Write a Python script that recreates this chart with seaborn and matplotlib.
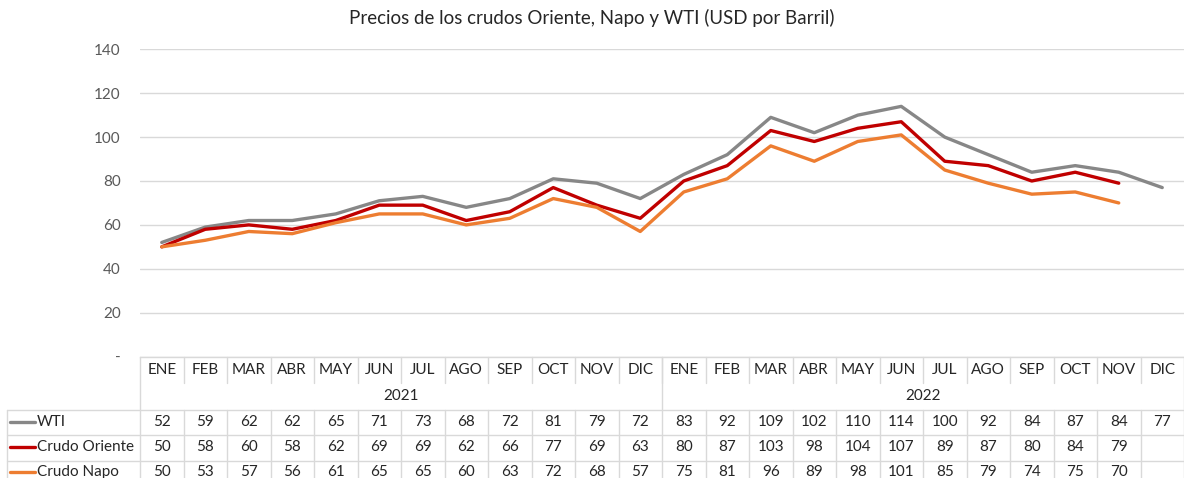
import numpy as np
import pandas as pd
import seaborn as sns
import matplotlib
matplotlib.use("Agg")
import matplotlib.pyplot as plt
from matplotlib.lines import Line2D
from matplotlib import transforms
from matplotlib.ticker import FuncFormatter

# ---- data ----
months = ["ENE", "FEB", "MAR", "ABR", "MAY", "JUN", "JUL", "AGO", "SEP", "OCT", "NOV", "DIC"]
years = ["2021", "2022"]
wti = [52, 59, 62, 62, 65, 71, 73, 68, 72, 81, 79, 72,
       83, 92, 109, 102, 110, 114, 100, 92, 84, 87, 84, 77]
oriente = [50, 58, 60, 58, 62, 69, 69, 62, 66, 77, 69, 63,
           80, 87, 103, 98, 104, 107, 89, 87, 80, 84, 79, np.nan]
napo = [50, 53, 57, 56, 61, 65, 65, 60, 63, 72, 68, 57,
        75, 81, 96, 89, 98, 101, 85, 79, 74, 75, 70, np.nan]
series_names = ["WTI", "Crudo Oriente", "Crudo Napo"]
series_values = [wti, oriente, napo]
colors = ["#878787", "#c00000", "#ed7d31"]
title = "Precios de los crudos Oriente, Napo y WTI (USD por Barril)"
yticks = [0, 20, 40, 60, 80, 100, 120, 140]

# ---- build long-form frame ----
n = len(wti)
labels = [m for _ in years for m in months]
df = pd.DataFrame({"idx": np.arange(n)})
for name, vals in zip(series_names, series_values):
    df[name] = vals
long = df.melt(id_vars="idx", var_name="series", value_name="value").dropna()

sns.set_style("white")
plt.rcParams["font.family"] = ["Lato", "DejaVu Sans"]

W, H = 1184, 478
fig = plt.figure(figsize=(W / 100, H / 100), dpi=100)
ax = fig.add_axes([140 / W, 1 - 356.6 / H, 1044 / W, (356.6 - 49.3) / H])

sns.lineplot(data=long, x="idx", y="value", hue="series", hue_order=series_names,
             palette=dict(zip(series_names, colors)), linewidth=2.4, legend=False,
             ax=ax, sort=True)

ax.set_xlim(-0.5, n - 0.5)
ax.set_ylim(0, 140)
ax.set_yticks(yticks)
ax.yaxis.set_major_formatter(FuncFormatter(lambda v, p: "-" if v == 0 else f"{int(v)}"))
ax.tick_params(axis="y", length=0, pad=14, labelsize=11, labelcolor="#595959")
ax.set_xticks([])
ax.set_xlabel("")
ax.set_ylabel("")
ax.grid(axis="y", color="#d9d9d9", linewidth=1)
for s in ["left", "right", "top"]:
    ax.spines[s].set_visible(False)
ax.spines["bottom"].set_color("#d9d9d9")
ax.spines["bottom"].set_linewidth(1)

fig.text(0.5, 1 - 18 / H, title, ha="center", va="center", fontsize=13.5, color="#262626")

# ---- data table ----
def fy(px):
    return 1 - px / H

bt = transforms.blended_transform_factory(ax.transData, fig.transFigure)
ft = fig.transFigure
grid_c = "#d9d9d9"
fs = 11

def vline(x, y0, y1, trans=bt):
    fig.add_artist(Line2D([x, x], [fy(y0), fy(y1)], transform=trans, color=grid_c, lw=1))

def hline(x0, y, trans=ft):
    fig.add_artist(Line2D([x0, 1.0], [fy(y), fy(y)], transform=trans, color=grid_c, lw=1))

row_month_y = 370
row_year_y = 396
row_data_y = [422, 447, 472]
top_y, mid_y, year_bot, row_bounds = 357, 383, 410, [410, 435, 461]

# month row
for i, lab in enumerate(labels):
    ax.text(i, fy(row_month_y), lab, transform=bt, ha="center", va="center",
            fontsize=fs, color="#262626")
for i in range(1, n):
    vline(i - 0.5, top_y, mid_y)
# year row
for k, yr in enumerate(years):
    ax.text(k * 12 + 5.5, fy(row_year_y), yr, transform=bt, ha="center", va="center",
            fontsize=fs, color="#262626")
vline(-0.5, top_y, H + 10)
vline(11.5, top_y, year_bot)
vline(n - 0.5, top_y, H + 10)
# data rows
for y in row_bounds:
    hline(7 / W, y)
for i in range(1, n):
    vline(i - 0.5, year_bot, H + 10)
fig.add_artist(Line2D([7 / W, 7 / W], [fy(year_bot), fy(H + 10)], transform=ft, color=grid_c, lw=1))

for r, (name, vals, c) in enumerate(zip(series_names, series_values, colors)):
    y = row_data_y[r]
    fig.add_artist(Line2D([10 / W, 35 / W], [fy(y), fy(y)], transform=ft, color=c, lw=2.4))
    fig.text(37 / W, fy(y), name, ha="left", va="center", fontsize=fs, color="#262626")
    for i, v in enumerate(vals):
        if not np.isnan(v):
            ax.text(i, fy(y), f"{int(v)}", transform=bt, ha="center", va="center",
                    fontsize=fs, color="#262626")

fig.savefig("out.png", dpi=100)
